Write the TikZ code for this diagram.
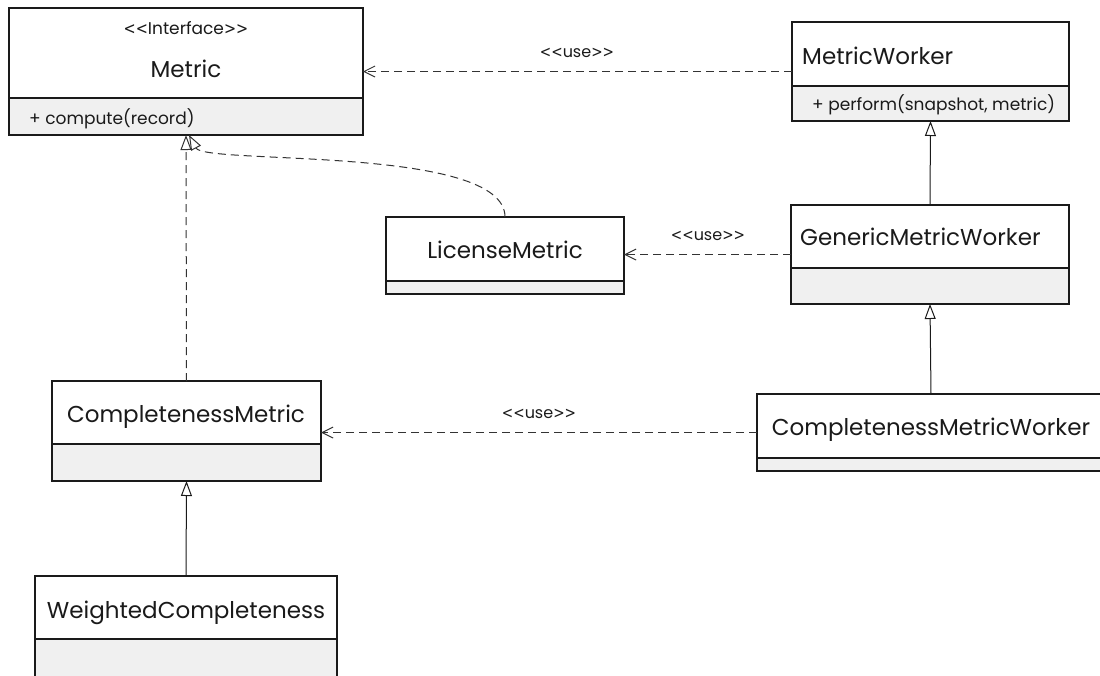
\documentclass[tikz,border=0pt]{standalone}
\usepackage{fontspec}
\setmainfont{Poppins}
\newfontfamily\anglefont{DejaVu Sans}
\usetikzlibrary{arrows.meta,calc}
\definecolor{compgray}{HTML}{F0F0F0}
\definecolor{ink}{HTML}{1A1A1A}
\definecolor{dashink}{HTML}{333333}

% one UML class: name, left, top, right, divider, bottom (all in px, y downwards)
\newcommand\umlclass[6]{%
  \node[classbox, minimum width={#4-#2}, minimum height={#6-#3}] (#1) at (#2,#3) {};
  \fill[compgray] (#2,#5) rectangle (#4,#6);
  \draw[boxline] (#2,#5) -- (#4,#5);
  \draw[boxline] (#1.north west) rectangle (#1.south east);
}
% stereotype brackets written as two plain angle signs each
\newcommand\stereotype[1]{{\anglefont\scalebox{0.85}[1]{<{}<}}#1{\anglefont\scalebox{0.85}[1]{>{}>}}}

\begin{document}
\begin{tikzpicture}[x=1pt, y=-1pt,
  boxline/.style={draw=ink, line width=1.2pt},
  classbox/.style={fill=white, rectangle, inner sep=0pt, outer sep=0pt, anchor=north west},
  cname/.style={inner sep=0pt, text=ink, font=\fontsize{23}{27}\selectfont},
  stereo/.style={inner sep=0pt, text=ink, font=\fontsize{17}{20}\selectfont},
  member/.style={inner sep=0pt, text=ink, font=\fontsize{17}{20}\selectfont},
  uselabel/.style={inner sep=0pt, text=ink, font=\fontsize{16}{19}\selectfont},
  usedep/.style={draw=dashink, line width=1pt, dash pattern=on 8pt off 5pt,
    -{Straight Barb[length=11pt, width=11pt, line width=1pt]}},
  generalize/.style={draw=ink, line width=1pt,
    -{Triangle[open, length=15pt, width=11pt, line width=1pt, fill=white]}},
  realize/.style={draw=dashink, line width=1pt, dash pattern=on 8pt off 5pt,
    -{Triangle[open, length=15pt, width=11pt, line width=1pt, fill=white]}},
]
\useasboundingbox (0,0) rectangle (1100,675);

% classes
\umlclass{metric}{9}{8}{363}{98}{135}
\umlclass{mworker}{792}{22}{1069}{86}{121}
\umlclass{license}{386}{217}{624}{281}{294}
\umlclass{gworker}{791}{205}{1069}{268}{304}
\umlclass{complete}{52}{381}{321}{444}{481}
\umlclass{cworker}{757}{394}{1105}{458}{471}
\umlclass{weighted}{35}{576}{337}{639}{700}

% class texts
\node[stereo, anchor=base] (metricSt) at (186,34) {\stereotype{Interface}};
\node[cname, anchor=base] (metricName) at (186,77) {Metric};
\node[member, anchor=base west] (metricOp) at (29,124) {+ compute(record)};

\node[cname, anchor=base west] (mworkerName) at (802,64) {MetricWorker};
\node[member, anchor=base west] (mworkerOp) at (812,110) {+ perform(snapshot, metric)};

\node[cname, anchor=base] (licenseName) at (505,258) {LicenseMetric};
\node[cname, anchor=base west] (gworkerName) at (800,245) {GenericMetricWorker};
\node[cname, anchor=base] (completeName) at (186,422) {CompletenessMetric};
\node[cname, anchor=base] (cworkerName) at (931,435) {CompletenessMetricWorker};
\node[cname, anchor=base] (weightedName) at (186,618) {WeightedCompleteness};

% usage dependencies
\draw[usedep] (mworker.west) -- (mworker.west -| metric.east);
\draw[usedep] (gworker.west) -- (gworker.west -| license.east);
\draw[usedep] (cworker.west) -- (cworker.west -| complete.east);
\node[uselabel, anchor=base] (use1) at (577,57) {\stereotype{use}};
\node[uselabel, anchor=base] (use2) at (708,240) {\stereotype{use}};
\node[uselabel, anchor=base] (use3) at (539,418) {\stereotype{use}};

% inheritance
\draw[generalize] (gworker.north) -- (mworker.south);
\draw[generalize] (cworker.north) -- (gworker.south);
\draw[generalize] (weighted.north) -- (complete.south);

% interface realisations
\draw[realize] (complete.north) -- (metric.south);
\draw[realize] (license.north) .. controls ($(license.north)+(0,-72)$) and ($(metric.south)+(19,30)$) .. ($(metric.south)+(3,0)$);
\end{tikzpicture}
\end{document}
